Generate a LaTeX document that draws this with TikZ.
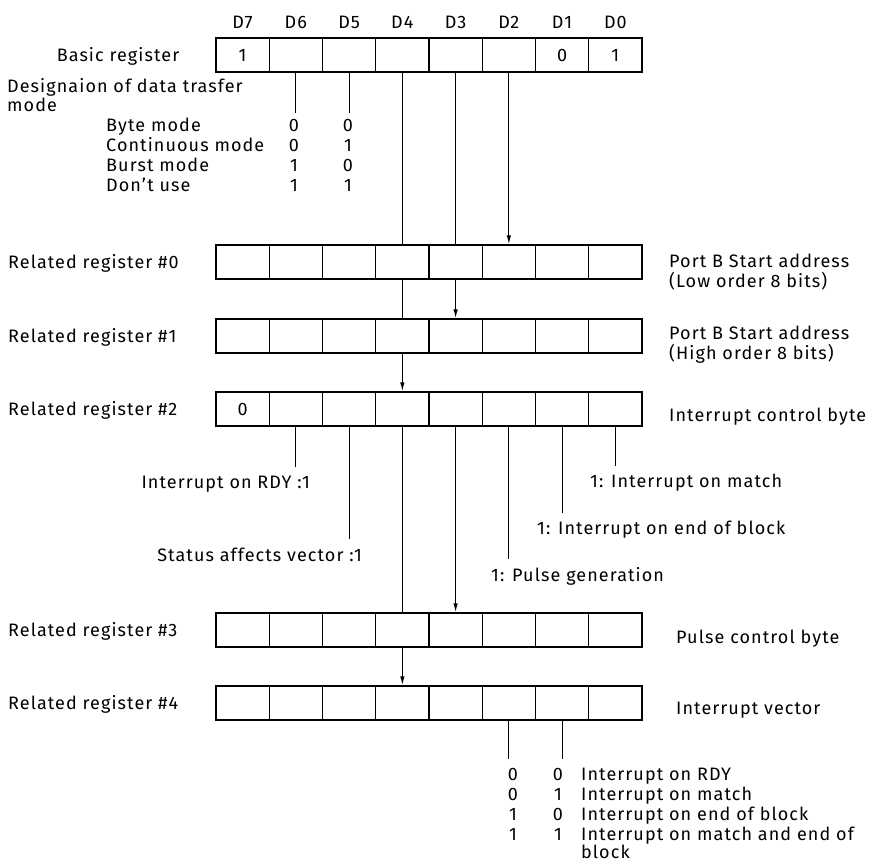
\documentclass[tikz,border=0pt]{standalone}
\usepackage{fontspec}
\setmainfont[LetterSpace=6]{Fira Sans}
\usetikzlibrary{arrows.meta,positioning}
\newcommand{\regfont}{\fontsize{18}{20}\selectfont}

\begin{document}
\begin{tikzpicture}[
  x=1pt, y=-1pt,
  >={Latex[length=9pt,width=4.5pt]},
  cell/.style={draw, line width=1.4pt, minimum width=53.25pt,
               minimum height=34pt, inner sep=0pt},
  bitval/.style={font=\regfont, inner sep=0pt, text height=12.5pt, text depth=0pt},
  regname/.style={bitval, anchor=west},
  regnote/.style={font=\regfont, anchor=west, align=left, inner sep=0pt},
  leftnote/.style={bitval, anchor=east},
  wire/.style={line width=1.2pt},
  arr/.style={wire, ->}
]
  \useasboundingbox (0,0) rectangle (872,864);

  % Registers, eight cells each
  \foreach \r/\y in {b/55, r0/262, r1/336, r2/409, r3/630, r4/703} {
    \foreach \k in {0,...,7} {
      \node[cell] (\r-\k) at ({242.6+53.25*(7-\k)}, \y) {};
    }
  }
  \foreach \k in {0,...,7}
    \node[bitval] (hd\k) at ({242.6+53.25*(7-\k)}, 22) {D\k};

  % Fixed bit values
  \node[bitval] (bv7) at (b-7) {1};
  \node[bitval] (bv1) at (b-1) {0};
  \node[bitval] (bv0) at (b-0) {1};
  \node[bitval] (r2v7) at (r2-7) {0};

  % Register names
  \node[bitval] (basicname) at (118, 55) {Basic register};
  \foreach \r/\y/\n in {r0/262/0, r1/336/1, r2/409/2, r3/630/3, r4/703/4}
    \node[regname] (\r name) at (8, \y) {Related register \#\n};

  % Register meanings
  \node[regnote] (r0note) at (669, 272) {Port B Start address\\(Low order 8 bits)};
  \node[regnote] (r1note) at (669, 345) {Port B Start address\\(High order 8 bits)};
  \node[regname] (r2note) at (669, 415) {Interrupt control byte};
  \node[regname] (r3note) at (676, 637) {Pulse control byte};
  \node[regname] (r4note) at (676, 708) {Interrupt vector};

  % Transfer mode (D6, D5)
  \node[font=\regfont, anchor=west, align=left, inner sep=0pt,
        execute at begin node=\setlength{\baselineskip}{16pt}]
       (modetitle) at (7, 95) {Designaion of data trasfer\\mode};
  \path (b-6.south) ++(0,40) coordinate (modeA);
  \path (b-5.south) ++(0,40) coordinate (modeB);
  \draw[wire] (b-6.south) -- (modeA);
  \draw[wire] (b-5.south) -- (modeB);
  \foreach \t/\a/\c [count=\i] in {Byte mode/0/0, Continuous mode/0/1,
                                   Burst mode/1/0, Don’t use/1/1} {
    \node[regname] (mode\i) at (106, {105+20*\i}) {\t};
    \node[bitval] (mode\i a) at (294, {105+20*\i}) {\a};
    \node[bitval] (mode\i b) at (348, {105+20*\i}) {\c};
  }

  % Selection of related registers
  \draw[wire] (b-4.south) -- (r0-4.north);
  \draw[wire] (r0-4.south) -- (r1-4.north);
  \draw[arr] (r1-4.south) -- (r2-4.north);
  \draw[wire] (b-3.south) -- (r0-3.north);
  \draw[arr] (r0-3.south) -- (r1-3.north);
  \draw[arr] (b-2.south) -- (r0-2.north);
  \draw[wire] (r2-4.south) -- (r3-4.north);
  \draw[arr] (r3-4.south) -- (r4-4.north);
  \draw[arr] (r2-3.south) -- (r3-3.north);

  % Interrupt control bits
  \path (r2-6.south) ++(0,40) coordinate (rdyend);
  \path (r2-5.south) ++(0,112) coordinate (stsend);
  \path (r2-2.south) ++(0,132) coordinate (plsend);
  \path (r2-1.south) ++(0,86) coordinate (eobend);
  \path (r2-0.south) ++(0,39) coordinate (mtchend);
  \draw[wire] (r2-6.south) -- (rdyend);
  \draw[wire] (r2-5.south) -- (stsend);
  \draw[wire] (r2-2.south) -- (plsend);
  \draw[wire] (r2-1.south) -- (eobend);
  \draw[wire] (r2-0.south) -- (mtchend);
  \node[leftnote] (rdynote) at (310, 482) {Interrupt on RDY\ :1};
  \node[leftnote] (stsnote) at (362, 555) {Status affects vector\ :1};
  \node[regname] (plsnote) at (491, 575) {1: Pulse generation};
  \node[regname] (eobnote) at (537, 528) {1: Interrupt on end of block};
  \node[regname] (mtchnote) at (590, 481) {1: Interrupt on match};

  % Interrupt vector bits (D2, D1)
  \path (r4-2.south) ++(0,38) coordinate (vecA);
  \path (r4-1.south) ++(0,38) coordinate (vecB);
  \draw[wire] (r4-2.south) -- (vecA);
  \draw[wire] (r4-1.south) -- (vecB);
  \foreach \a/\c/\t [count=\i] in {0/0/Interrupt on RDY, 0/1/Interrupt on match,
                                   1/0/Interrupt on end of block,
                                   1/1/Interrupt on match and end of} {
    \node[bitval] (vec\i a) at (513, {754+20*\i}) {\a};
    \node[bitval] (vec\i b) at (558, {754+20*\i}) {\c};
    \node[regname] (vec\i) at (581, {754+20*\i}) {\t};
  }
  \node[regname] (vec5) at (581, 852) {block};
\end{tikzpicture}
\end{document}
